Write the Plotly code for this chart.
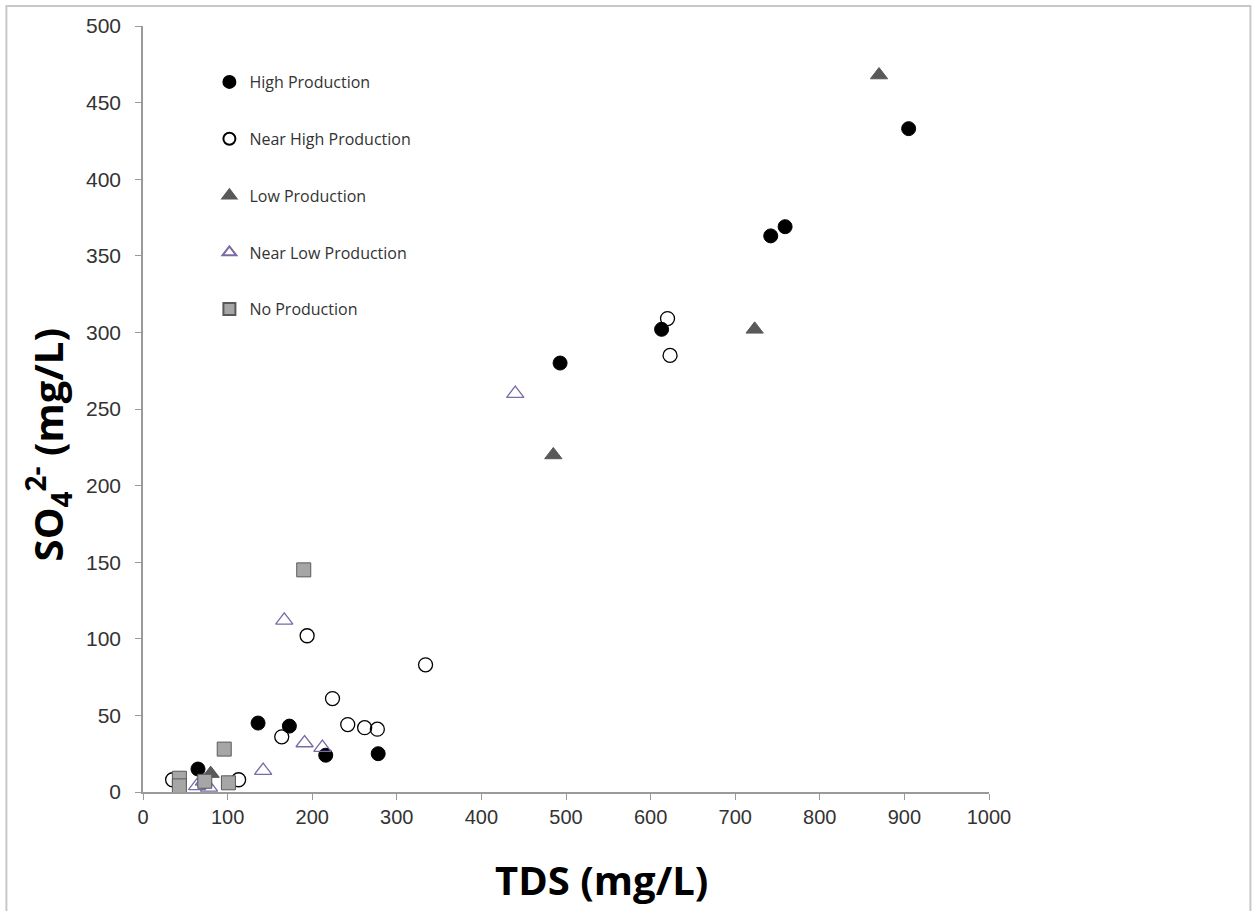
import plotly.graph_objects as go

# ---- data (TDS mg/L, SO4 mg/L) ----
high_x = [905, 759, 742, 613, 493, 136, 173, 216, 278, 65]
high_y = [433, 369, 363, 302, 280, 45, 43, 24, 25, 15]

near_high_x = [620, 623, 334, 194, 224, 242, 262, 277, 164, 35, 113]
near_high_y = [309, 285, 83, 102, 61, 44, 42, 41, 36, 8, 8]

low_x = [870, 723, 485, 80]
low_y = [468, 302, 220, 12]

near_low_x = [440, 167, 191, 212, 142, 64, 72, 78]
near_low_y = [260, 112, 32, 29, 14, 4, 7, 3]

no_x = [190, 96, 43, 43, 73, 101]
no_y = [145, 28, 9, 4, 7, 6]

x_ticks = [0, 100, 200, 300, 400, 500, 600, 700, 800, 900, 1000]
y_ticks = [0, 50, 100, 150, 200, 250, 300, 350, 400, 450, 500]

x_title = "<b>TDS (mg/L)</b>"
y_title = "<b>SO<sub>4</sub><sup>2-</sup> (mg/L)</b>"

W, H = 1252, 911
L, R, T, B = 142.6, 1252 - 988.6, 26, 911 - 792
pw, ph = W - L - R, H - T - B

fig = go.Figure()
series = [
    ("High Production", high_x, high_y, dict(symbol="circle", size=14, color="black",
                                             line=dict(color="black", width=1))),
    ("Near High Production", near_high_x, near_high_y, dict(symbol="circle-open", size=14,
                                                            color="black", line=dict(width=1.3))),
    ("Low Production", low_x, low_y, dict(symbol="triangle-up", size=15, color="#595959",
                                          line=dict(color="#595959", width=1))),
    ("Near Low Production", near_low_x, near_low_y, dict(symbol="triangle-up-open", size=15,
                                                         color="#7a6aa6", line=dict(width=1.3))),
    ("No Production", no_x, no_y, dict(symbol="square", size=14, color="#a6a6a6",
                                       line=dict(color="#595959", width=1))),
]
for i, (name, xs, ys, mk) in enumerate(series):
    fig.add_trace(go.Scatter(x=xs, y=ys, mode="markers", name=name, marker=mk,
                             legendgroup="g%d" % i))

# outer chart border
fig.add_shape(type="rect", xref="paper", yref="paper",
              x0=(6 - L) / pw, x1=(1250 - L) / pw,
              y0=(T + ph - 920) / ph, y1=(T + ph - 6) / ph,
              line=dict(color="#c8c8c8", width=2), layer="below")

# axis titles
fig.add_annotation(text=x_title, xref="paper", yref="paper",
                   x=(601 - L) / pw, y=(T + ph - 880) / ph, xanchor="center", yanchor="middle",
                   showarrow=False, font=dict(family="Open Sans", size=40, color="black"))
fig.add_annotation(text=y_title, xref="paper", yref="paper", textangle=-90,
                   x=(47 - L) / pw, y=(T + ph - 445) / ph, xanchor="center", yanchor="middle",
                   showarrow=False, font=dict(family="Open Sans", size=40, color="black"))

axis_common = dict(showgrid=False, zeroline=False, showline=True, linecolor="#9a9a9a",
                   linewidth=1.5, ticks="outside", ticklen=6, tickcolor="#9a9a9a",
                   tickwidth=1.2, mirror=False)

fig.update_layout(
    width=W, height=H,
    margin=dict(l=L, r=R, t=T, b=B),
    paper_bgcolor="white", plot_bgcolor="white",
    xaxis=dict(range=[0, 1000], tickvals=x_ticks, **axis_common,
               tickfont=dict(family="Liberation Sans, Arial", size=20, color="#333333")),
    yaxis=dict(range=[0, 500], tickvals=y_ticks, **axis_common, ticklabelstandoff=10,
               tickfont=dict(family="Liberation Sans, Arial", size=21, color="#333333")),
    legend=dict(x=(209 - L) / pw, y=(T + ph - 65) / ph, xanchor="left", yanchor="top",
                bgcolor="rgba(0,0,0,0)", tracegroupgap=33, itemsizing="constant",
                font=dict(family="Open Sans", size=16, color="#333333")),
    showlegend=True,
)

fig.write_html("out.html")
